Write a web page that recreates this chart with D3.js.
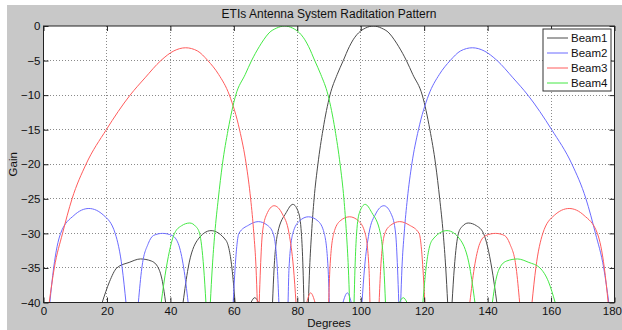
<!DOCTYPE html>
<html>
<head>
<meta charset="utf-8">
<script src="https://cdn.jsdelivr.net/npm/d3@7"></script>
<style>
  body { margin: 0; background: #fff; }
  text { font-family: "Liberation Sans", Arial, sans-serif; }
</style>
</head>
<body>
<div id="chart"></div>
<script>
// values, each beam as a list of lobes [degrees, gain]
const xTicks = [0, 20, 40, 60, 80, 100, 120, 140, 160, 180];
const yTicks = [0, -5, -10, -15, -20, -25, -30, -35, -40];
const beamNames = ["Beam1", "Beam2", "Beam3", "Beam4"];
const beamColors = ["#4a4a4a", "#6b6bff", "#ff5c5c", "#44e844"];

const beam1 = [
  [[18.5,-40],[20.8,-37],[23.1,-35],[27,-34.2],[30.6,-33.7],[34,-34],[36.2,-35],[37.5,-37],[38.5,-40]],
  [[44.0,-40],[45.6,-35],[48.5,-31],[52.8,-29.6],[57.5,-31],[59.4,-35],[60.4,-40]],
  [[65.4,-40],[66.6,-39.3],[67.8,-40]],
  [[72.2,-40],[72.7,-35],[73.8,-30],[76.5,-27],[78.6,-25.8],[80.4,-27],[81.3,-30],[81.8,-35],[82.1,-40]],
  [[83.5,-40],[83.9,-35],[84.5,-30],[85.3,-25],[86.5,-20],[88.1,-15],[90.3,-10],[92.6,-7],[94.5,-5],[96.4,-3],[97.6,-2],[99.3,-1],[101.5,-0.3],[104,0],[106.5,-0.3],[108.9,-1],[110.6,-2],[112,-3],[114.4,-5],[116.4,-7],[119.4,-10],[121.8,-15],[123.6,-20],[124.9,-25],[126,-30],[126.8,-35],[127.4,-40]],
  [[128.8,-40],[129.5,-35],[130.8,-30],[132,-29],[133.9,-28.5],[136.5,-28.9],[138.7,-30],[141.3,-35],[142.9,-40]]
];
const beam2 = [
  [[2.0,-40],[3.2,-35],[5.4,-30],[9.6,-27.4],[14.3,-26.4],[19,-27.4],[22.6,-30],[24.8,-35],[26.0,-40]],
  [[29.9,-40],[31.0,-35],[33,-31.5],[34.7,-30.3],[37.5,-30],[40.5,-30.3],[42.5,-31.5],[44.2,-35],[45.6,-40]],
  [[59.8,-40],[60.4,-35],[61.6,-30],[64.7,-28.8],[67.7,-28.3],[70.5,-28.8],[72.4,-30],[73.7,-35],[74.2,-40]],
  [[77.1,-40],[77.4,-35],[78.6,-30],[80.7,-28.2],[83.5,-27.6],[86.5,-28.2],[88.5,-30],[89.7,-35],[90.1,-40]],
  [[94.4,-40],[95.8,-38.6],[97.0,-40]],
  [[100.4,-40],[101.2,-35],[102.6,-30],[104.7,-27.2],[107.3,-26],[109.7,-27.3],[111.0,-30],[111.6,-35],[112.0,-40]],
  [[112.6,-40],[113.0,-35],[113.7,-30],[114.7,-25],[116.1,-20],[118.2,-15],[121.4,-10],[124.8,-7],[128.2,-5],[131.5,-3.6],[135.2,-3.15],[138.9,-3.6],[143,-5],[148,-7.5],[152.7,-10],[160.2,-15],[166.6,-20],[171,-25],[174,-30],[176.6,-35],[178.2,-40]]
];
const beam3 = [
  [[1.8,-40],[3.4,-35],[6.0,-30],[9.0,-25],[13.4,-20],[19.8,-15],[27.3,-10],[32,-7.5],[37.0,-5],[41.1,-3.6],[44.8,-3.15],[48.5,-3.6],[51.8,-5],[55.2,-7],[58.6,-10],[61.8,-15],[63.9,-20],[65.3,-25],[66.3,-30],[67.0,-35],[67.4,-40]],
  [[68.0,-40],[68.4,-35],[69.0,-30],[70.3,-27.3],[72.7,-26],[75.3,-27.2],[77.4,-30],[78.8,-35],[79.6,-40]],
  [[83.0,-40],[84.2,-38.6],[85.6,-40]],
  [[89.9,-40],[90.3,-35],[91.5,-30],[93.5,-28.2],[96.5,-27.6],[99.3,-28.2],[101.4,-30],[102.6,-35],[102.9,-40]],
  [[105.8,-40],[106.3,-35],[107.6,-30],[109.5,-28.8],[112.3,-28.3],[115.3,-28.8],[118.4,-30],[119.6,-35],[120.2,-40]],
  [[134.4,-40],[135.8,-35],[137.5,-31.5],[139.5,-30.3],[142.5,-30],[145.3,-30.3],[147,-31.5],[149,-35],[150.1,-40]],
  [[154.0,-40],[155.2,-35],[157.4,-30],[161,-27.4],[165.7,-26.4],[170.4,-27.4],[174.6,-30],[176.8,-35],[178.0,-40]]
];
const beam4 = [
  [[37.1,-40],[38.7,-35],[41.3,-30],[43.5,-28.9],[46.1,-28.5],[48,-29],[49.2,-30],[50.5,-35],[51.2,-40]],
  [[52.6,-40],[53.2,-35],[54.0,-30],[55.1,-25],[56.4,-20],[58.2,-15],[60.6,-10],[63.6,-7],[65.6,-5],[68.0,-3],[69.4,-2],[71.1,-1],[73.5,-0.3],[76,0],[78.5,-0.3],[80.7,-1],[82.4,-2],[83.6,-3],[85.5,-5],[87.4,-7],[89.7,-10],[91.9,-15],[93.5,-20],[94.7,-25],[95.5,-30],[96.1,-35],[96.5,-40]],
  [[97.9,-40],[98.2,-35],[98.7,-30],[99.6,-27],[101.4,-25.8],[103.5,-27],[106.2,-30],[107.3,-35],[107.8,-40]],
  [[112.2,-40],[113.4,-39.3],[114.6,-40]],
  [[119.6,-40],[120.6,-35],[122.5,-31],[127.2,-29.6],[131.5,-31],[134.4,-35],[136,-40]],
  [[141.5,-40],[142.5,-37],[143.8,-35],[146,-34],[149.4,-33.7],[153,-34.2],[156.5,-35],[159.2,-37],[161.3,-40]]
];
const beams = [beam1, beam2, beam3, beam4];

const width = 622, height = 330;
const plotLeft = 43.5, plotRight = 614.5, plotTop = 26, plotBottom = 302.5;

const x = d3.scaleLinear().domain([0, 180]).range([plotLeft, plotRight]);
const y = d3.scaleLinear().domain([-40, 0]).range([plotBottom, plotTop]);

const svg = d3.select("#chart").append("svg")
    .attr("width", width)
    .attr("height", height);

// figure background
svg.append("rect").attr("x", 7).attr("y", 5)
    .attr("width", width - 7).attr("height", height - 5)
    .attr("fill", "#c8c8c8");

svg.append("rect")
    .attr("x", plotLeft).attr("y", plotTop)
    .attr("width", plotRight - plotLeft).attr("height", plotBottom - plotTop)
    .attr("fill", "#fff");

// dotted grid
const grid = svg.append("g")
    .attr("stroke", "#8a8a8a")
    .attr("stroke-dasharray", "1,2")
    .attr("shape-rendering", "crispEdges");

grid.selectAll("line.gx")
    .data(xTicks.slice(1, -1))
  .enter().append("line")
    .attr("x1", d => x(d)).attr("x2", d => x(d))
    .attr("y1", plotTop).attr("y2", plotBottom);

grid.selectAll("line.gy")
    .data(yTicks.slice(1, -1))
  .enter().append("line")
    .attr("x1", plotLeft).attr("x2", plotRight)
    .attr("y1", d => y(d)).attr("y2", d => y(d));

// beam curves
svg.append("clipPath").attr("id", "plot-clip")
  .append("rect")
    .attr("x", plotLeft).attr("y", plotTop)
    .attr("width", plotRight - plotLeft).attr("height", plotBottom - plotTop);

const line = d3.line()
    .x(d => x(d[0]))
    .y(d => y(d[1]))
    .curve(d3.curveMonotoneX);

const curves = svg.append("g").attr("clip-path", "url(#plot-clip)");

beams.forEach((lobes, i) => {
  curves.append("g")
      .selectAll("path")
      .data(lobes)
    .enter().append("path")
      .attr("d", line)
      .attr("fill", "none")
      .attr("stroke", beamColors[i])
      .attr("stroke-width", 1);
});

// axes, ticks inward
const tickLen = 5;

const xAxis = svg.append("g")
    .attr("transform", "translate(0," + plotBottom + ")")
    .call(d3.axisBottom(x).tickValues(xTicks).tickSizeInner(-tickLen).tickSizeOuter(0).tickPadding(4));

svg.append("g")
    .attr("transform", "translate(" + plotLeft + ",0)")
    .call(d3.axisLeft(y).tickValues(yTicks).tickSizeInner(-tickLen).tickSizeOuter(0).tickPadding(3));

svg.append("g")
    .attr("transform", "translate(0," + plotTop + ")")
    .call(d3.axisTop(x).tickValues(xTicks).tickSizeInner(-tickLen).tickSizeOuter(0).tickFormat(""));

svg.append("g")
    .attr("transform", "translate(" + plotRight + ",0)")
    .call(d3.axisRight(y).tickValues(yTicks).tickSizeInner(-tickLen).tickSizeOuter(0).tickFormat(""));

svg.selectAll(".domain").remove();
svg.selectAll(".tick line").attr("stroke", "#222");
svg.selectAll(".tick text")
    .attr("fill", "#111")
    .style("font-size", "11.5px")
    .style("font-family", "'Liberation Sans', Arial, sans-serif");

// last label sits at the window edge, keep it inside
xAxis.selectAll(".tick text")
    .filter(d => d === 180)
    .attr("text-anchor", "end")
    .attr("x", 7);

svg.append("rect")
    .attr("x", plotLeft).attr("y", plotTop)
    .attr("width", plotRight - plotLeft).attr("height", plotBottom - plotTop)
    .attr("fill", "none")
    .attr("stroke", "#222")
    .attr("stroke-width", 1);

// title and labels
svg.append("text")
    .attr("x", (plotLeft + plotRight) / 2).attr("y", 18)
    .attr("text-anchor", "middle")
    .style("font-size", "12px")
    .attr("fill", "#111")
    .text("ETIs Antenna System Raditation Pattern");

svg.append("text")
    .attr("x", (plotLeft + plotRight) / 2).attr("y", 327)
    .attr("text-anchor", "middle")
    .style("font-size", "11.5px")
    .attr("fill", "#111")
    .text("Degrees");

svg.append("text")
    .attr("transform", "translate(17," + (plotTop + plotBottom) / 2 + ") rotate(-90)")
    .attr("text-anchor", "middle")
    .style("font-size", "11.5px")
    .attr("fill", "#111")
    .text("Gain");

// legend
const legend = svg.append("g").attr("transform", "translate(543,29)");

legend.append("rect")
    .attr("width", 68).attr("height", 62)
    .attr("fill", "#fff")
    .attr("stroke", "#333");

const item = legend.selectAll("g.item")
    .data(beamNames)
  .enter().append("g")
    .attr("transform", (d, i) => "translate(0," + (9 + i * 15) + ")");

item.append("line")
    .attr("x1", 4).attr("x2", 25)
    .attr("stroke", (d, i) => beamColors[i]);

item.append("text")
    .attr("x", 28).attr("dy", "0.35em")
    .style("font-size", "11.5px")
    .attr("fill", "#111")
    .text(d => d);
</script>
</body>
</html>
